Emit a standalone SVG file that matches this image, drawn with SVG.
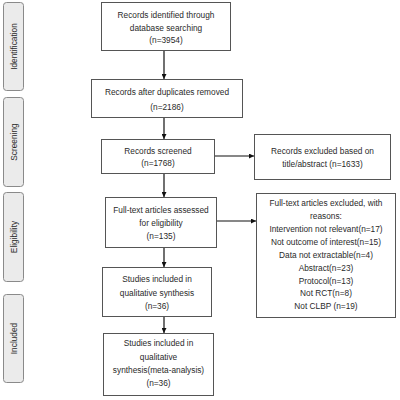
<svg xmlns="http://www.w3.org/2000/svg" width="400" height="400" viewBox="0 0 400 400">
<defs>
<marker id="ah" viewBox="0 0 10 10" refX="10" refY="5" markerWidth="5" markerHeight="5" orient="auto" markerUnits="userSpaceOnUse">
<path d="M0,0 L10,5 L0,10 z" fill="#111"/>
</marker>
<style>
.side{fill:#ebebeb;stroke:#8a8a8a;stroke-width:1}
.box{fill:#fff;stroke:#555;stroke-width:1}
text{font-family:"Liberation Sans",Arial,sans-serif;font-size:8.3px;fill:#2a2a2a;text-anchor:middle}
.lbl{font-size:8.3px}
.con{stroke:#111;stroke-width:1.2;fill:none;marker-end:url(#ah)}
</style>
</defs>
<rect width="400" height="400" fill="#fff"/>
<g id="stage-identification"><rect class="side" x="3.5" y="2.5" width="20" height="88" rx="3"/><text class="lbl" transform="translate(16.5,46.5) rotate(-90)">Identification</text></g>
<g id="stage-screening"><rect class="side" x="3.5" y="97.5" width="20" height="89" rx="3"/><text class="lbl" transform="translate(16.5,142) rotate(-90)">Screening</text></g>
<g id="stage-eligibility"><rect class="side" x="3.5" y="192.5" width="20" height="89" rx="3"/><text class="lbl" transform="translate(16.5,237) rotate(-90)">Eligibility</text></g>
<g id="stage-included"><rect class="side" x="3.5" y="294.5" width="20" height="88" rx="3"/><text class="lbl" transform="translate(16.5,338.5) rotate(-90)">Included</text></g>

<g id="n1"><rect class="box" x="101.5" y="2.5" width="129" height="48"/>
<text x="166" y="18">Records identified through</text><text x="166" y="30.5">database searching</text><text x="166" y="43">(n=3954)</text></g>
<g id="n2"><rect class="box" x="91.5" y="79.5" width="151" height="38"/>
<text x="167" y="95">Records after duplicates removed</text><text x="167" y="110">(n=2186)</text></g>
<g id="n3"><rect class="box" x="101.5" y="139.5" width="113" height="34"/>
<text x="158" y="154">Records screened</text><text x="158" y="166">(n=1768)</text></g>
<g id="n4"><rect class="box" x="105.5" y="197.5" width="111" height="50"/>
<text x="161" y="213">Full-text articles assessed</text><text x="161" y="226">for eligibility</text><text x="161" y="239">(n=135)</text></g>
<g id="n5"><rect class="box" x="102.5" y="267.5" width="109" height="49"/>
<text x="157" y="282">Studies included in</text><text x="157" y="295.5">qualitative synthesis</text><text x="157" y="309">(n=36)</text></g>
<g id="n6"><rect class="box" x="103.5" y="333.5" width="110" height="62"/>
<text x="158.5" y="346">Studies included in</text><text x="158.5" y="359.5">qualitative</text><text x="158.5" y="372.5">synthesis(meta-analysis)</text><text x="158.5" y="385.5">(n=36)</text></g>
<g id="n7"><rect class="box" x="254.5" y="134.5" width="136" height="45"/>
<text x="322.5" y="154">Records excluded based on</text><text x="322.5" y="166.5">title/abstract (n=1633)</text></g>
<g id="n8"><rect class="box" x="256.5" y="193.5" width="139" height="124"/>
<text x="326" y="206">Full-text articles excluded, with</text>
<text x="326" y="219">reasons:</text>
<text x="326" y="232">Intervention not relevant(n=17)</text>
<text x="326" y="245">Not outcome of interest(n=15)</text>
<text x="326" y="258">Data not extractable(n=4)</text>
<text x="326" y="270.5">Abstract(n=23)</text>
<text x="326" y="283.5">Protocol(n=13)</text>
<text x="326" y="296">Not RCT(n=8)</text>
<text x="326" y="309">Not CLBP (n=19)</text></g>

<g id="connectors">
<line class="con" x1="164" y1="51" x2="164" y2="79"/>
<line class="con" x1="164" y1="118" x2="164" y2="139"/>
<line class="con" x1="164" y1="174" x2="164" y2="197"/>
<line class="con" x1="164" y1="248" x2="164" y2="267"/>
<line class="con" x1="164" y1="317" x2="164" y2="333"/>
<line class="con" x1="215" y1="156" x2="254" y2="156"/>
<line class="con" x1="217" y1="221" x2="256" y2="221"/>
</g>
</svg>
